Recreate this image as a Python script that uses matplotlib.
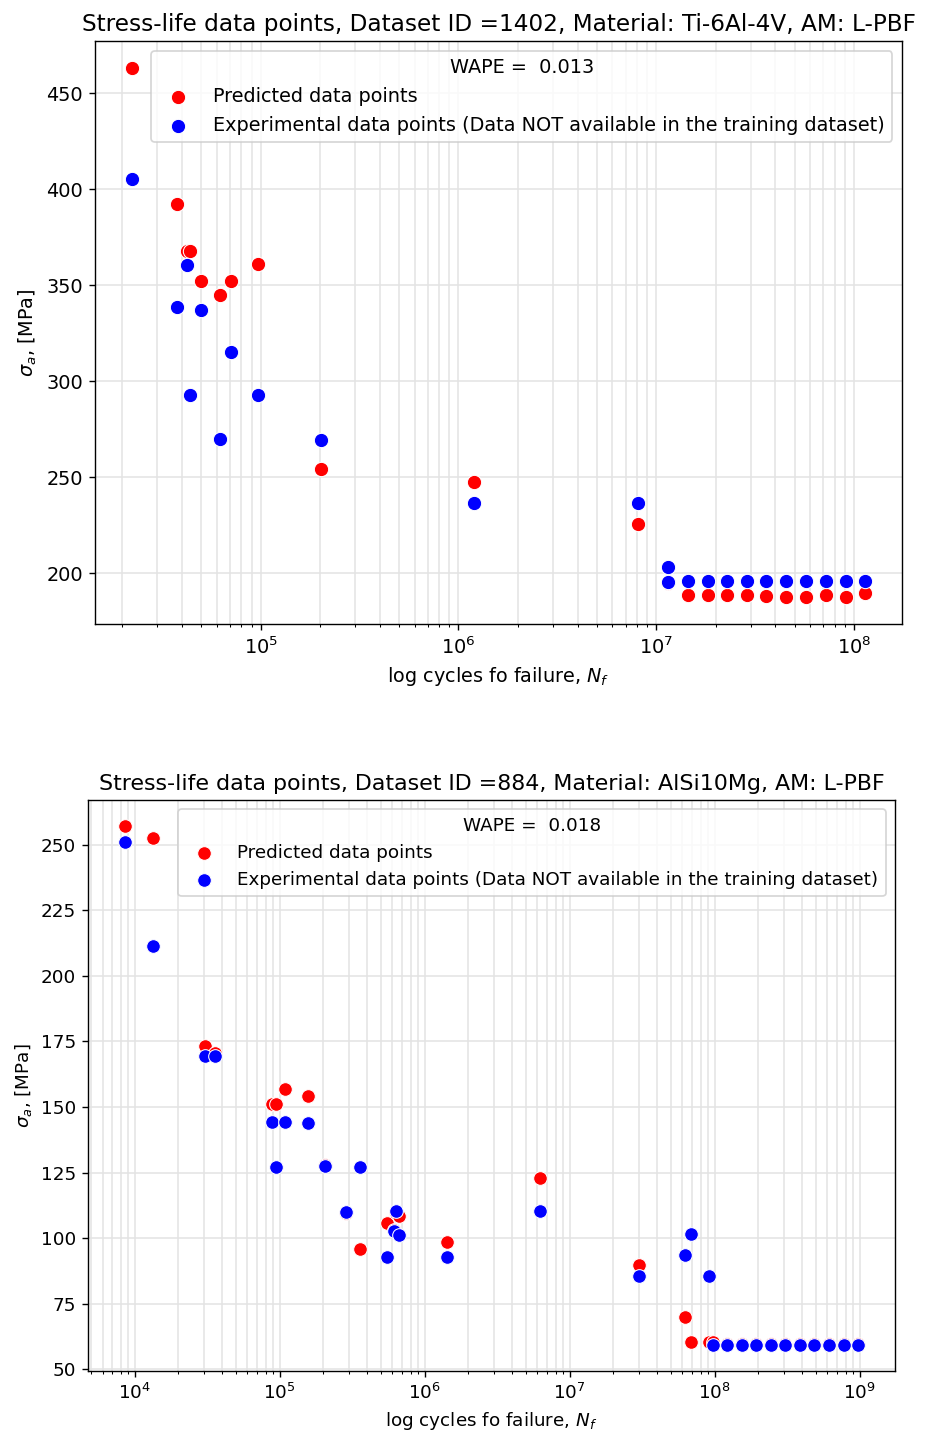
from matplotlib import pyplot as plt
import numpy as np

# Dataset 1402 : Ti-6Al-4V, L-PBF
cycles_1402 = [2.23e4, 3.77e4, 4.23e4, 4.40e4, 4.98e4, 6.23e4, 7.11e4, 9.69e4,
               2.03e5, 1.20e6, 8.10e6, 1.14e7, 1.14e7, 1.44e7, 1.82e7, 2.28e7,
               2.87e7, 3.58e7, 4.54e7, 5.70e7, 7.19e7, 9.08e7, 1.14e8]
pred_1402 = [463.3, 392.3, 367.9, 367.9, 352.0, 345.1, 352.0, 361.2,
             254.3, 247.6, 225.8, 195.0, 195.4, 188.6, 188.6, 188.6,
             188.6, 188.4, 187.5, 187.5, 188.6, 187.5, 189.9]
exp_1402 = [405.2, 338.5, 360.6, 292.7, 337.3, 269.9, 315.1, 292.7,
            269.4, 236.7, 236.7, 203.1, 195.6, 195.9, 195.9, 195.9,
            195.9, 195.9, 195.9, 195.9, 195.9, 195.9, 195.9]
wape_1402 = 0.013

# Dataset 884 : AlSi10Mg, L-PBF
cycles_884 = [8.53e3, 1.33e4, 3.04e4, 3.57e4, 8.79e4, 9.46e4, 1.08e5, 1.56e5,
              2.05e5, 2.89e5, 3.60e5, 5.51e5, 6.14e5, 6.30e5, 6.68e5, 1.43e6,
              6.22e6, 3.02e7, 6.20e7, 6.90e7, 9.10e7, 9.70e7, 1.22e8, 1.55e8,
              1.94e8, 2.46e8, 3.04e8, 3.85e8, 4.84e8, 6.11e8, 7.76e8, 9.80e8]
pred_884 = [257.1, 252.6, 173.2, 170.7, 151.3, 151.3, 156.7, 154.1,
            128.0, 109.6, 96.0, 105.8, 103.0, 109.5, 108.3, 98.5,
            122.9, 89.8, 70.0, 60.6, 60.6, 60.6, 59.5, 59.5,
            59.5, 59.5, 59.5, 59.5, 59.5, 59.5, 59.5, 59.5]
exp_884 = [251.0, 211.5, 169.4, 169.4, 144.2, 127.0, 144.2, 144.0,
           127.4, 110.0, 127.2, 93.0, 102.6, 110.2, 101.3, 93.0,
           110.2, 85.4, 93.4, 101.7, 85.4, 59.3, 59.3, 59.3,
           59.3, 59.3, 59.3, 59.3, 59.3, 59.3, 59.3, 59.3]
wape_884 = 0.018


def draw(ax, N, pred, exp, wape, title, fs, ms):
    ax.scatter(N, pred, s=ms, c='red', edgecolors='white', linewidths=0.6,
               label='Predicted data points', zorder=3)
    ax.scatter(N, exp, s=ms, c='blue', edgecolors='white', linewidths=0.6,
               label='Experimental data points (Data NOT available in the training dataset)',
               zorder=3)
    ax.set_xscale('log')
    ax.grid(True, which='major', color='#e3e3e3', linewidth=0.9)
    ax.grid(True, which='minor', axis='x', color='#e3e3e3', linewidth=0.9)
    ax.set_axisbelow(True)
    ax.tick_params(labelsize=fs)
    ax.set_title(title, fontsize=fs * 1.2)
    ax.set_xlabel('log cycles fo failure, $N_f$', fontsize=fs)
    ax.set_ylabel('$\\sigma_a$, [MPa]', fontsize=fs)
    ax.legend(loc='upper right', title='WAPE =  ' + str(wape),
              fontsize=fs, title_fontsize=fs)


fig = plt.figure(figsize=(927 / 125, 1439 / 125), dpi=125)
ax1 = fig.add_axes([0.1025, 0.5664, 0.8706, 0.4051])
ax2 = fig.add_axes([0.0949, 0.0473, 0.8706, 0.3968])

draw(ax1, cycles_1402, pred_1402, exp_1402, wape_1402,
     'Stress-life data points, Dataset ID =1402, Material: Ti-6Al-4V, AM: L-PBF',
     11.1, 68)
draw(ax2, cycles_884, pred_884, exp_884, wape_884,
     'Stress-life data points, Dataset ID =884, Material: AlSi10Mg, AM: L-PBF',
     10.6, 62)

fig.savefig('out.png', dpi=125)
